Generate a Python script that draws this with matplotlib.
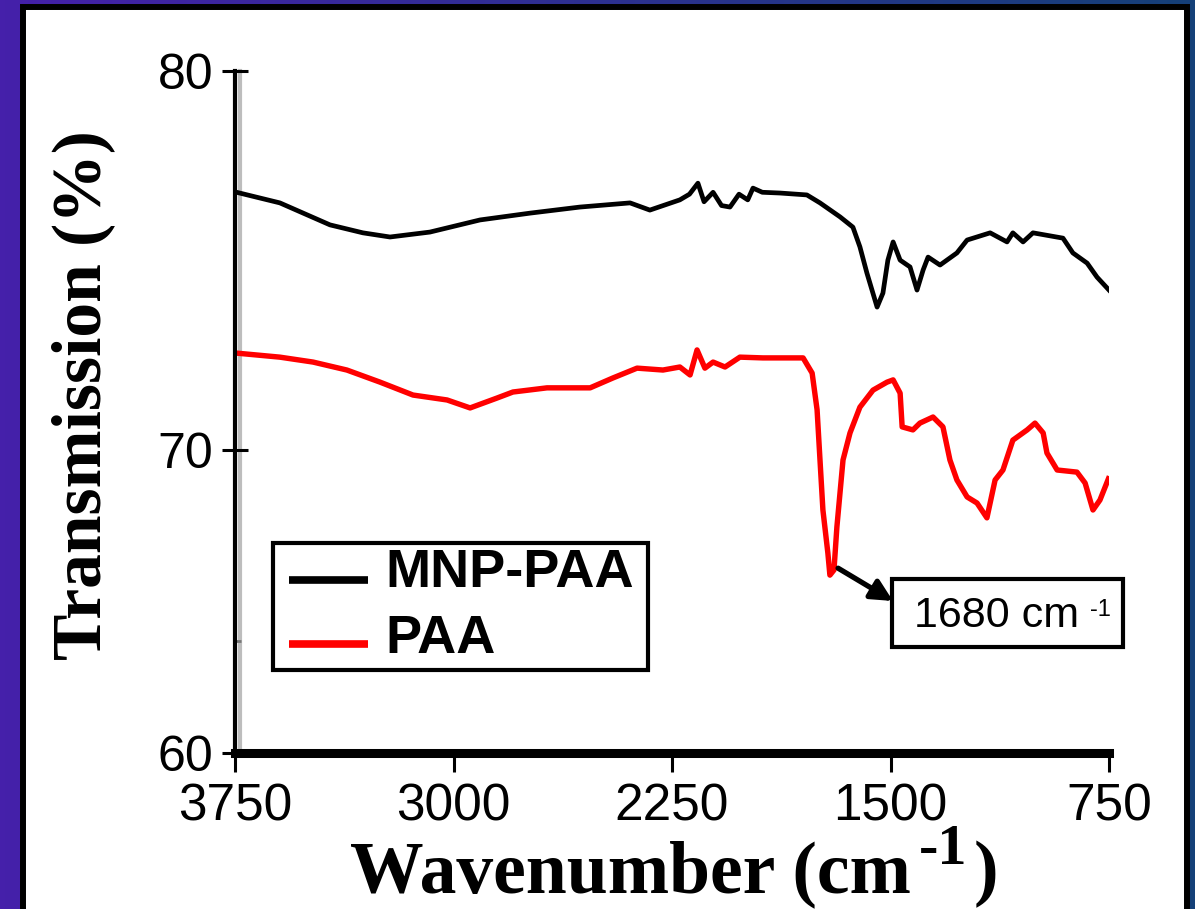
import numpy as np
import matplotlib
matplotlib.use('Agg')
import matplotlib.pyplot as plt
from matplotlib.patches import Rectangle
from matplotlib.lines import Line2D
from matplotlib.transforms import offset_copy

# ---------------- data ----------------
wn_mnp = [3750, 3596, 3424, 3311, 3218, 3081, 2909, 2737, 2566, 2394, 2326, 2223,
          2190, 2161, 2140, 2109, 2080, 2051, 2020, 1990, 1972, 1940, 1879, 1787,
          1742, 1673, 1629, 1605, 1581, 1546, 1526, 1509, 1491, 1467, 1433, 1409,
          1388, 1371, 1330, 1272, 1237, 1158, 1100, 1080, 1045, 1011, 908, 874,
          825, 791, 750]
t_mnp = [76.81, 76.52, 75.94, 75.73, 75.62, 75.75, 76.07, 76.25, 76.41, 76.52, 76.33, 76.60,
         76.75, 77.04, 76.55, 76.80, 76.45, 76.41, 76.75, 76.60, 76.91, 76.80, 76.78, 76.73,
         76.52, 76.15, 75.88, 75.36, 74.67, 73.77, 74.14, 75.01, 75.49, 75.01, 74.83, 74.22,
         74.75, 75.09, 74.88, 75.20, 75.54, 75.73, 75.49, 75.73, 75.49, 75.73, 75.59, 75.20,
         74.93, 74.56, 74.22]

wn_paa = [3750, 3596, 3482, 3366, 3252, 3139, 3022, 2943, 2851, 2796, 2679, 2531,
          2453, 2370, 2281, 2223, 2188, 2164, 2137, 2109, 2068, 2017, 1938, 1800,
          1769, 1752, 1742, 1732, 1715, 1708, 1694, 1684, 1663, 1639, 1605, 1560,
          1512, 1491, 1467, 1460, 1423, 1399, 1354, 1320, 1296, 1272, 1237, 1203,
          1169, 1141, 1114, 1080, 1031, 1004, 976, 963, 928, 860, 832, 805, 781, 752]
t_paa = [72.56, 72.45, 72.32, 72.11, 71.79, 71.45, 71.32, 71.11, 71.37, 71.53, 71.64, 71.64,
         71.90, 72.16, 72.11, 72.19, 71.98, 72.64, 72.16, 72.32, 72.19, 72.45, 72.43, 72.43,
         72.03, 71.06, 69.67, 68.02, 66.60, 65.87, 66.04, 67.46, 69.67, 70.45, 71.13, 71.58,
         71.79, 71.85, 71.50, 70.61, 70.53, 70.71, 70.87, 70.61, 69.67, 69.01, 68.45, 68.25,
         67.76, 69.01, 69.34, 70.26, 70.53, 70.71, 70.45, 69.90, 69.34, 69.27, 68.91, 68.02,
         68.35, 69.05]

x_ticks = [3750, 3000, 2250, 1500, 750]
y_ticks = [60, 70, 80]
series_labels = ['MNP-PAA', 'PAA']
series_colors = ['black', '#ff0000']
peak_wn, peak_t = 1680, 66.1
peak_text, peak_sup = '1680 cm', '-1'

# ---------------- figure ----------------
plt.rcParams['font.family'] = ['Liberation Sans', 'DejaVu Sans']

W, H = 1195, 909
fig = plt.figure(figsize=(W / 100, H / 100), dpi=100)


def fx(px):
    return px / W


def fy(py):
    return 1 - py / H


# background gradient + white panel with black frame
bg = fig.add_axes([0, 0, 1, 1], zorder=0)
grad = np.linspace(0, 1, 256)[None, :, None]
c0 = np.array([0x45, 0x20, 0xAA]) / 255
c1 = np.array([0x15, 0x40, 0x78]) / 255
bg.imshow(c0 + (c1 - c0) * grad, aspect='auto', extent=[0, 1, 0, 1])
bg.add_patch(Rectangle((fx(23), -0.1), fx(1187) - fx(23), fy(7) + 0.1,
                       facecolor='white', edgecolor='black', linewidth=4.3))
bg.set_xlim(0, 1)
bg.set_ylim(0, 1)
bg.axis('off')

# main axes
ax = fig.add_axes([fx(235), fy(753), fx(1109) - fx(235), fy(71) - fy(753)], zorder=1)
ax.patch.set_alpha(0)


def fwd(y):
    y = np.asarray(y, float)
    return np.where(y <= 70, (y - 60) * 30.3, 303 + (y - 70) * 37.9)


def inv(u):
    u = np.asarray(u, float)
    return np.where(u <= 303, 60 + u / 30.3, 70 + (u - 303) / 37.9)


ax.set_yscale('function', functions=(fwd, inv))

ax.plot(wn_mnp, t_mnp, color=series_colors[0], lw=3.4, solid_joinstyle='round')
ax.plot(wn_paa, t_paa, color=series_colors[1], lw=3.9, solid_joinstyle='round')

ax.set_xlim(3750, 750)
ax.set_ylim(60, 80)
ax.set_xticks(x_ticks)
ax.set_xticklabels([str(v) for v in x_ticks])
ax.set_yticks(y_ticks)
ax.set_yticklabels([str(v) for v in y_ticks])
ax.set_yticks([63.7], minor=True)
ax.yaxis.set_minor_formatter(plt.NullFormatter())

for s in ['top', 'right']:
    ax.spines[s].set_visible(False)
ax.spines['left'].set_linewidth(3.0)
ax.spines['bottom'].set_linewidth(6.5)
# light grey shading beside the left axis line
ax.add_line(Line2D([0, 0], [0, 1], transform=offset_copy(ax.transAxes, fig=fig, x=4.5,
                                                         units='dots'),
                   color='#bdbdbd', lw=3, zorder=0.5, clip_on=False))

ax.tick_params(axis='x', direction='out', length=14, width=2.2, pad=7, labelsize=37)
ax.tick_params(axis='y', which='major', direction='inout', length=19, width=2.2,
               pad=6, labelsize=36)
ax.tick_params(axis='y', which='minor', direction='in', length=4, width=2, color='#777777')

# legend (drawn as a boxed key)
fig.patches.append(Rectangle((fx(273), fy(670)), fx(648) - fx(273), fy(543) - fy(670),
                             transform=fig.transFigure, facecolor='white',
                             edgecolor='black', linewidth=3, zorder=3))
leg_rows = [580, 644]
leg_base = [587, 653]
for lab, col, yr, yb in zip(series_labels, series_colors, leg_rows, leg_base):
    fig.add_artist(Line2D([fx(289), fx(368)], [fy(yr), fy(yr)], transform=fig.transFigure,
                          color=col, lw=5.5, zorder=4, solid_capstyle='butt'))
    fig.text(fx(385), fy(yb), lab, ha='left', va='baseline', fontsize=39,
             weight='bold', zorder=4)

# annotation box + arrow
fig.patches.append(Rectangle((fx(892), fy(647)), fx(1123) - fx(892), fy(579) - fy(647),
                             transform=fig.transFigure, facecolor='white',
                             edgecolor='black', linewidth=3, zorder=3))
tp = fig.text(fx(914), fy(627), peak_text, ha='left', va='baseline', fontsize=31, zorder=4)
fig.canvas.draw()
r = fig.canvas.get_renderer()
ep = tp.get_window_extent(r)
fig.text((ep.x1 + 11) / W, fy(616), peak_sup, ha='left', va='baseline', fontsize=17,
         zorder=4)
ax.annotate('', xy=(fx(893), fy(601)), xycoords='figure fraction',
            xytext=(peak_wn, peak_t), textcoords='data',
            arrowprops=dict(arrowstyle='-|>', color='black', lw=3.8,
                            mutation_scale=32, shrinkA=0, shrinkB=0))

# axis labels (bold serif)
serif = dict(family='Liberation Serif', weight='bold')
t1 = fig.text(fx(350), fy(892), 'Wavenumber (cm', ha='left', va='baseline',
              fontsize=53, **serif)
fig.canvas.draw()
e1 = t1.get_window_extent(r)
t2 = fig.text((e1.x1 + 8) / W, fy(864), '-1', ha='left', va='baseline',
              fontsize=42, **serif)
e2 = t2.get_window_extent(r)
fig.text((e2.x1 + 6) / W, fy(892), ')', ha='left', va='baseline', fontsize=53, **serif)

fig.text(fx(83), fy(395), 'Transmission (%)', rotation=90, ha='center', va='center',
         fontsize=50, **serif)

fig.savefig('out.png', dpi=100)
